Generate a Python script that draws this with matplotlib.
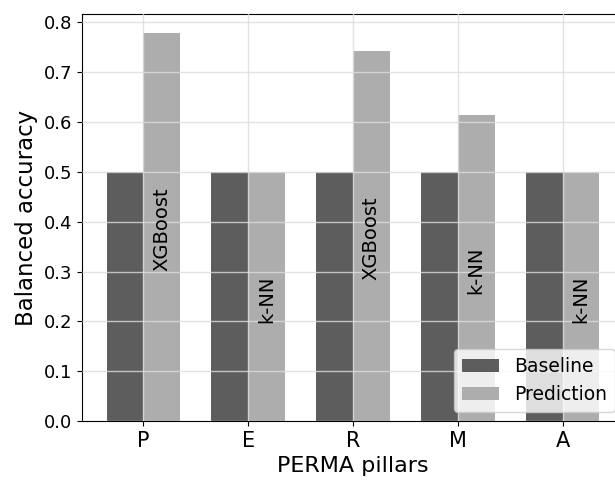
import numpy as np
import matplotlib.pyplot as plt

# pilastri PERMA e accuratezze
pillars = ["P", "E", "R", "M", "A"]
baseline = [0.5, 0.5, 0.5, 0.5, 0.5]
prediction = [0.778, 0.5, 0.742, 0.614, 0.5]
models = ["XGBoost", "k-NN", "XGBoost", "k-NN", "k-NN"]

x = np.arange(len(pillars))
w = 0.35

fig, ax = plt.subplots(figsize=(6.15, 4.82), dpi=100)
#l'asse a destra esce un po' dalla figura, come nell'originale ritagliato
fig.subplots_adjust(left=0.1333, right=1.0146, top=0.971, bottom=0.1266)

ax.bar(x - w/2, baseline, w, color="#5d5d5d", label="Baseline", zorder=1)
bars = ax.bar(x + w/2, prediction, w, color="#adadad", label="Prediction", zorder=1)

#nome del modello dentro la barra
for b, m in zip(bars, models):
	ax.text(b.get_x() + b.get_width()/2, b.get_height()/2 - 0.005, m, rotation=90,
		ha="center", va="center", fontsize=14, zorder=3)

ax.grid(True, color="#dddddd", linewidth=1, alpha=0.8, zorder=2)
ax.set_axisbelow(False)

ax.set_xticks(x)
ax.set_xticklabels(pillars, fontsize=15)
ax.tick_params(axis="y", labelsize=13)
ax.set_xlabel("PERMA pillars", fontsize=16)
ax.set_ylabel("Balanced accuracy", fontsize=16.5)
ax.legend(loc="lower right", fontsize=13.5)

fig.savefig("out.png", dpi=100)
